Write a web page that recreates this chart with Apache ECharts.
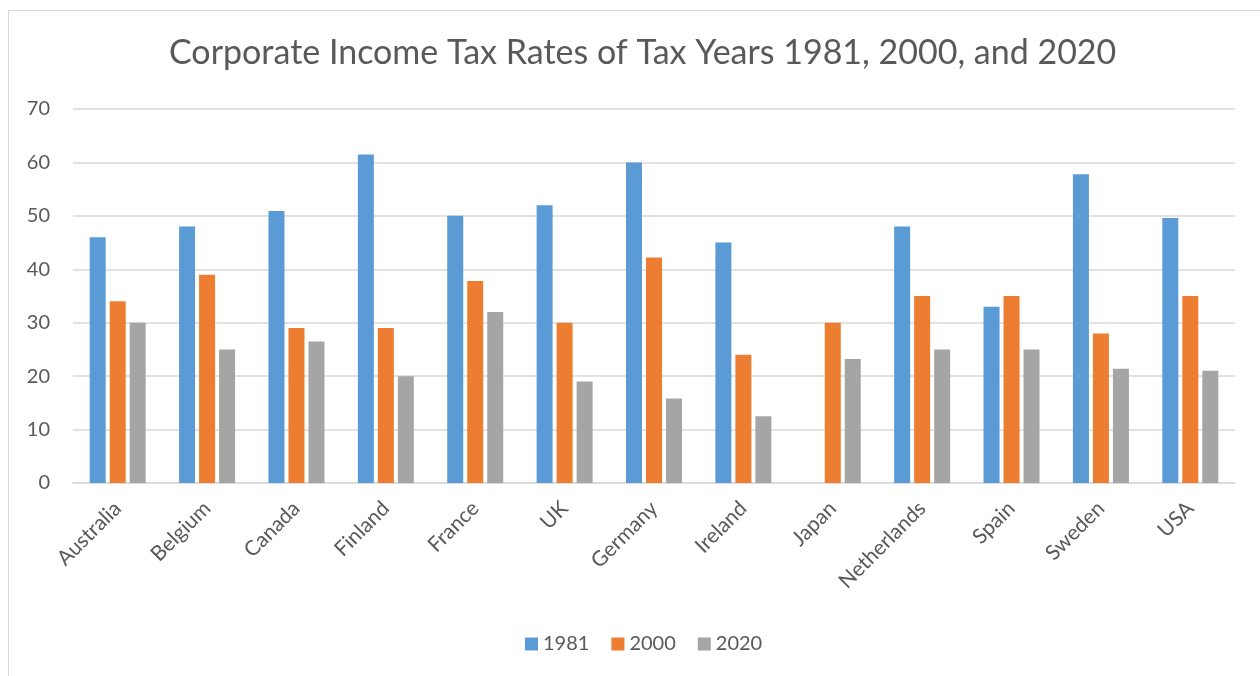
<!DOCTYPE html>
<html>
<head>
<meta charset="utf-8">
<script src="https://cdn.jsdelivr.net/npm/echarts@6/dist/echarts.min.js"></script>
<style>
html,body{margin:0;padding:0;background:#fff;}
#frame{position:absolute;left:8px;top:10px;width:1270px;height:680px;border:1px solid #d9d9d9;box-sizing:border-box;}
#chart{position:absolute;left:0;top:0;width:1260px;height:676px;}
</style>
</head>
<body>
<div id="frame"></div>
<div id="chart"></div>
<script>
const categories = ['Australia','Belgium','Canada','Finland','France','UK','Germany','Ireland','Japan','Netherlands','Spain','Sweden','USA'];
const rates1981 = [46, 48, 50.9, 61.5, 50, 52, 60, 45, null, 48, 33, 57.8, 49.6];
const rates2000 = [34, 39, 29, 29, 37.8, 30, 42.2, 24, 30, 35, 35, 28, 35];
const rates2020 = [30, 25, 26.5, 20, 32, 19, 15.8, 12.5, 23.2, 25, 25, 21.4, 21];
const yTicks = [0, 10, 20, 30, 40, 50, 60, 70];

const font = 'Lato, "Open Sans", sans-serif';
const chart = echarts.init(document.getElementById('chart'), null, {renderer: 'canvas'});
const barStyle = (c) => ({color: c});
chart.setOption({
  animation: false,
  title: {
    text: 'Corporate Income Tax Rates of Tax Years 1981, 2000, and 2020',
    left: 164, top: 31,
    textStyle: {fontFamily: font, fontSize: 34, fontWeight: 'normal', color: '#595959'}
  },
  legend: {
    bottom: 17, left: 520,
    itemWidth: 13, itemHeight: 13, itemGap: 22,
    icon: 'rect',
    textStyle: {fontFamily: font, fontSize: 20, color: '#595959'},
    data: ['1981', '2000', '2020']
  },
  grid: {left: 73, right: 25, top: 109, bottom: 193, containLabel: false},
  xAxis: {
    type: 'category', data: categories,
    axisLine: {lineStyle: {color: '#d9d9d9', width: 1.5}},
    axisTick: {show: false},
    axisLabel: {rotate: 45, fontFamily: font, fontSize: 21, color: '#595959', margin: 22, interval: 0}
  },
  yAxis: {
    type: 'value', min: yTicks[0], max: yTicks[yTicks.length - 1], interval: 10,
    axisLine: {show: false}, axisTick: {show: false},
    axisLabel: {fontFamily: font, fontSize: 20, color: '#595959', margin: 23},
    splitLine: {lineStyle: {color: '#d9d9d9', width: 1.5}}
  },
  series: [
    {name: '1981', type: 'bar', data: rates1981, barWidth: 16, barGap: '25%', itemStyle: barStyle('#5b9bd5')},
    {name: '2000', type: 'bar', data: rates2000, barWidth: 16, barGap: '25%', itemStyle: barStyle('#ed7d31')},
    {name: '2020', type: 'bar', data: rates2020, barWidth: 16, barGap: '25%', itemStyle: barStyle('#a5a5a5')}
  ]
});
</script>
</body>
</html>
